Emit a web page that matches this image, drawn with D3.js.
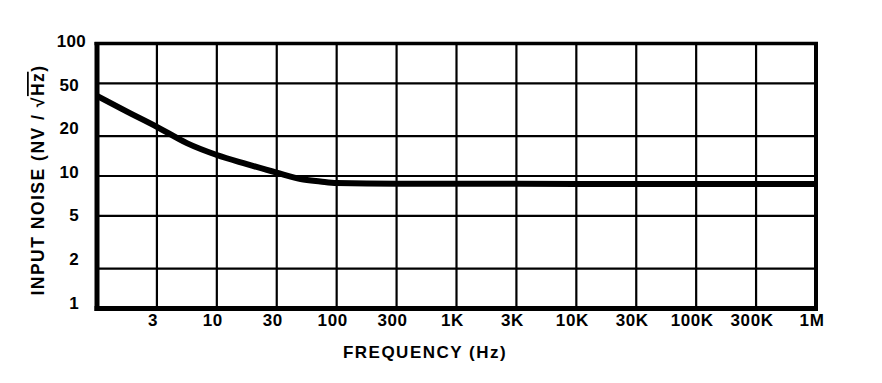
<!DOCTYPE html>
<html><head><meta charset="utf-8">
<script src="https://cdn.jsdelivr.net/npm/d3@7"></script>
<style>
body{margin:0;background:#fff}
text{font-family:"Liberation Sans",Arial,Helvetica,sans-serif;font-weight:bold;fill:#000}
</style>
</head><body><svg id="c" width="882" height="383"></svg>
<script>
// ---- data ----
const frequency = [1, 1.78, 3.16, 5.62, 10, 17.8, 31.6, 50, 73, 100, 316, 1000, 10000, 100000, 1000000];
const noise     = [40.2, 30.6, 23.5, 17.7, 14.4, 12.3, 10.6, 9.5, 9.1, 8.85, 8.75, 8.75, 8.7, 8.7, 8.7];
const xTickValues = [3.162, 10, 31.62, 100, 316.2, 1000, 3162, 10000, 31623, 100000, 316228, 1000000];
const xTickLabels = ["3", "10", "30", "100", "300", "1K", "3K", "10K", "30K", "100K", "300K", "1M"];
const yTickValues = [100, 50, 20, 10, 5, 2, 1];
const yTickLabels = ["100", "50", "20", "10", "5", "2", "1"];
const xTitle = "FREQUENCY (Hz)";
const yTitleMain = "INPUT NOISE (NV / ";
const yTitleRoot = "\u221A";
const yTitleUnder = "Hz";
const yTitleEnd = ")";

// ---- drawing ----
const svg = d3.select("#c");
svg.append("rect").attr("width", 882).attr("height", 383).attr("fill", "#fff");

const L = 97, R = 816, T = 43.5, B = 308.5;
const x = d3.scaleLog().domain([1, 1e6]).range([L, R]);
const y = d3.scaleLog().domain([1, 100]).range([B, T]);
const yLab = d3.scalePoint().domain(yTickLabels).range([T - 2.5, B - 6]);

const g = svg.append("g");

// grid
g.selectAll("line.vg").data(xTickValues).join("line")
  .attr("x1", d => x(d)).attr("x2", d => x(d))
  .attr("y1", T).attr("y2", B)
  .attr("stroke", "#000").attr("stroke-width", 2.2);
g.selectAll("line.hg").data(yTickValues).join("line")
  .attr("x1", L).attr("x2", R)
  .attr("y1", d => y(d)).attr("y2", d => y(d))
  .attr("stroke", "#000").attr("stroke-width", 2.2);

// frame
const frame = [
  {x1: L, y1: T - 1.5, x2: L, y2: B + 2.5, w: 5},
  {x1: L - 2.5, y1: B, x2: R + 2, y2: B, w: 5},
  {x1: L - 2.5, y1: T, x2: R + 2, y2: T, w: 3.5},
  {x1: R, y1: T - 1.5, x2: R, y2: B + 2.5, w: 4}
];
g.selectAll("line.fr").data(frame).join("line")
  .attr("x1", d => d.x1).attr("x2", d => d.x2)
  .attr("y1", d => d.y1).attr("y2", d => d.y2)
  .attr("stroke", "#000").attr("stroke-width", d => d.w);

// curve
const line = d3.line()
  .x((d, i) => x(frequency[i]))
  .y(d => y(d))
  .curve(d3.curveMonotoneX);
g.append("path").datum(noise)
  .attr("d", line)
  .attr("fill", "none").attr("stroke", "#000")
  .attr("stroke-width", 6).attr("stroke-linejoin", "round");

// x tick labels
g.selectAll("text.xl").data(xTickValues).join("text")
  .attr("x", d => x(d) - 4).attr("y", 325.5)
  .attr("text-anchor", "middle")
  .style("font-size", "17px").style("letter-spacing", "0.6px")
  .text((d, i) => xTickLabels[i]);

// y tick labels
g.selectAll("text.yl").data(yTickLabels).join("text")
  .attr("x", d => d === "100" ? 86 : 79).attr("y", d => yLab(d))
  .attr("dy", "0.36em")
  .attr("text-anchor", "end")
  .style("font-size", "17px").style("letter-spacing", "0.3px")
  .text(d => d);

// x title
svg.append("text")
  .attr("x", 425).attr("y", 358)
  .attr("text-anchor", "middle")
  .style("font-size", "17px").style("letter-spacing", "1.5px")
  .text(xTitle);

// y title
const yt = svg.append("text")
  .attr("transform", "translate(44,180) rotate(-90)")
  .attr("text-anchor", "middle")
  .style("font-size", "17.5px").style("letter-spacing", "1.5px");
yt.append("tspan").text(yTitleMain);
yt.append("tspan").text(yTitleRoot);
yt.append("tspan").style("text-decoration", "overline").text(yTitleUnder);
yt.append("tspan").text(yTitleEnd);
</script>
</body></html>
